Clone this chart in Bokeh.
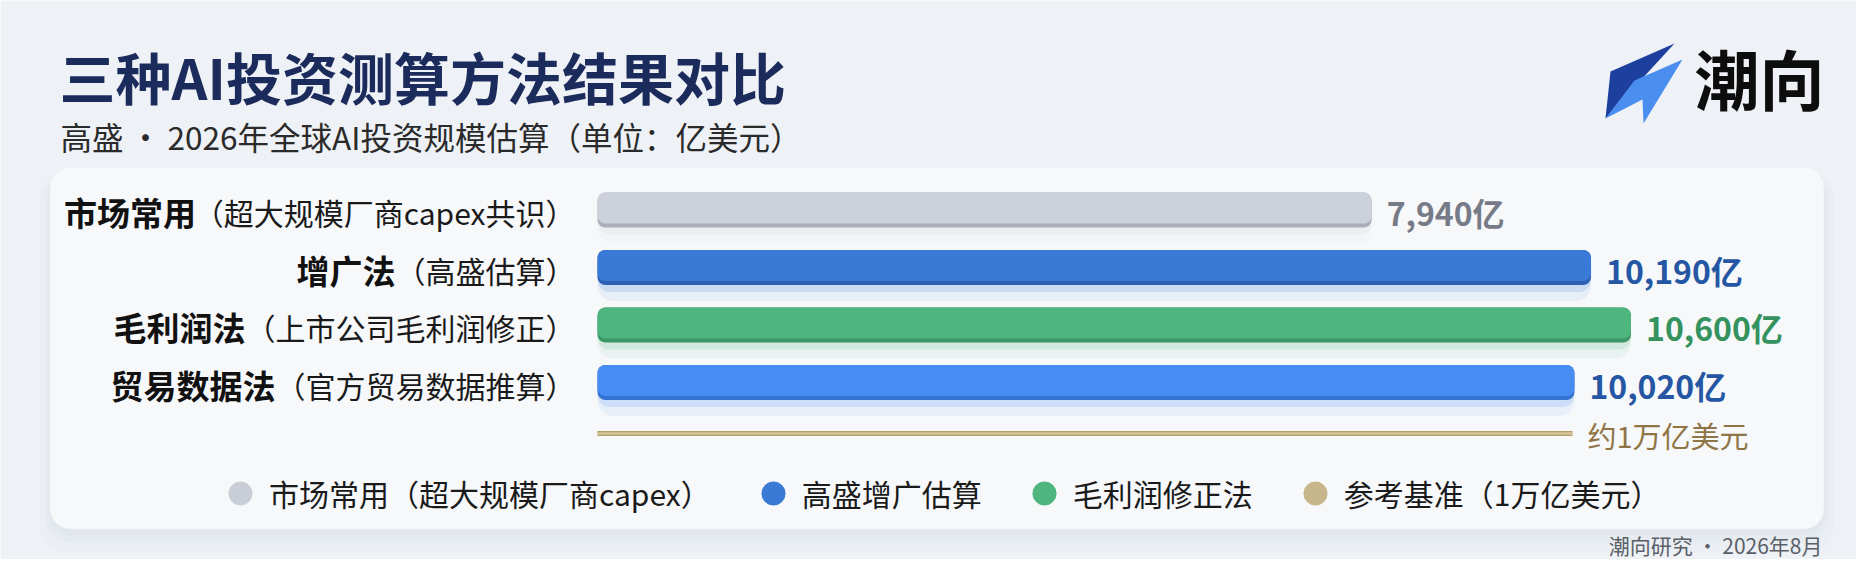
from bokeh.plotting import figure
from bokeh.models import Range1d, Label, BoxAnnotation, PolyAnnotation, Legend, LegendItem
from bokeh.core.properties import value
from bokeh.embed import file_html
from bokeh.resources import INLINE

# ---------------- data ----------------
title_text = "三种AI投资测算方法结果对比"
subtitle_text = "高盛\u2009·\u20092026年全球AI投资规模估算（单位：亿美元）"
brand_text = "潮向"
footer_text = "潮向研究\u2009·\u20092026年8月"

method_names = ["市场常用", "增广法", "毛利润法", "贸易数据法"]
method_notes = ["（超大规模厂商capex共识）", "（高盛估算）", "（上市公司毛利润修正）", "（官方贸易数据推算）"]
values_yi = [7940, 10190, 10600, 10020]          # 亿美元
reference_value = 10000
reference_label = "约1万亿美元"
legend_labels = ["市场常用（超大规模厂商capex）", "高盛增广估算", "毛利润修正法", "参考基准（1万亿美元）"]

# ---------------- styles ----------------
FONT = "Noto Sans CJK SC"
BG = "#eef1f5"
bar_colors = ["#cdd1da", "#3a7ad7", "#4fb57f", "#468cf3"]
bar_dark = ["#a9aeb9", "#2b5fb5", "#3b9564", "#3571d0"]
value_colors = ["#767b87", "#2556a3", "#34925e", "#2556a3"]
legend_colors = ["#c9cdd6", "#3a7ad7", "#4fb57f", "#c8b68c"]
ref_text_color = "#8f7546"

W, H = 1856, 559
BAR_X0 = 597          # canvas px where value 0 sits
PX_PER_UNIT = 0.0975  # px per 亿美元
ROW0 = 209.5          # canvas px (from top) of first row centre
ROW_STEP = 57.5
PX = 1.0 / ROW_STEP   # one pixel in y data units
BAR_H = 35 * PX


def sx(px):
    return px


def sy(py):
    return H - py


def text_w(s, fs):
    w = 0.0
    for ch in s:
        o = ord(ch)
        if o >= 0x2E80:
            w += 1.0
        elif ch.isdigit():
            w += 0.554
        elif ch.islower():
            w += 0.53
        elif ch.isupper():
            w += 0.62
        else:
            w += 0.3
    return w * fs


p = figure(width=W, height=H,
           x_range=Range1d(-BAR_X0 / PX_PER_UNIT, (W - BAR_X0) / PX_PER_UNIT),
           y_range=Range1d((H - ROW0) / ROW_STEP, -ROW0 / ROW_STEP),
           output_backend="svg", toolbar_location=None, min_border=0,
           x_axis_location=None, y_axis_location=None,
           outline_line_color=None, background_fill_color=BG, border_fill_color=BG)
p.grid.visible = False

# ---------------- card ----------------
for off, grow, alpha in [(14, 10, 0.025), (9, 5, 0.04), (5, 2, 0.05)]:
    p.add_layout(BoxAnnotation(left=sx(50) - grow, right=sx(1823) + grow,
                               top=sy(168) - off + grow, bottom=sy(528) - off - grow,
                               left_units="screen", right_units="screen",
                               top_units="screen", bottom_units="screen",
                               fill_color="#8a95a8", fill_alpha=alpha, line_color=None,
                               border_radius=24, level="underlay"))
p.add_layout(BoxAnnotation(left=sx(50), right=sx(1823), top=sy(168), bottom=sy(528),
                           left_units="screen", right_units="screen",
                           top_units="screen", bottom_units="screen",
                           fill_color="#f7f8fa", fill_alpha=1, line_color="#ffffff", line_width=2,
                           border_radius=20, level="underlay"))

# ---------------- bars ----------------
rows = list(range(len(method_names)))
zeros = [0] * len(rows)

p.hbar(y=[r + 11 * PX for r in rows], left=zeros, right=values_yi, height=BAR_H + 10 * PX,
       fill_color=bar_colors, fill_alpha=0.08, line_color=None, border_radius=15)
p.hbar(y=[r + 6 * PX for r in rows], left=zeros, right=values_yi, height=BAR_H + 2 * PX,
       fill_color=bar_colors, fill_alpha=0.16, line_color=None, border_radius=12)
p.hbar(y=rows, left=zeros, right=values_yi, height=BAR_H,
       fill_color=bar_dark, line_color=None, border_radius=8)
p.hbar(y=[r - 2 * PX for r in rows], left=zeros, right=values_yi, height=BAR_H - 4 * PX,
       fill_color=bar_colors, line_color=None, border_radius=8)

# value labels
p.text(x=values_yi, y=rows, text=[f"{v:,}亿" for v in values_yi],
       x_offset=15, y_offset=2, text_align="left", text_baseline="middle",
       text_font=value(FONT), text_font_style="bold", text_font_size="32px",
       text_color=value_colors)

# row labels (bold name + regular note), right aligned before the bars
LABEL_GAP = 22
NOTE_FS = 30
note_w = [text_w(s, NOTE_FS) for s in method_notes]
p.text(x=zeros, y=rows, text=method_notes, x_offset=-LABEL_GAP, y_offset=2,
       text_align="right", text_baseline="middle",
       text_font=value(FONT), text_font_size=f"{NOTE_FS}px", text_color="#1a1a1a")
p.text(x=zeros, y=rows, text=method_names, x_offset=[-LABEL_GAP - w for w in note_w], y_offset=2,
       text_align="right", text_baseline="middle",
       text_font=value(FONT), text_font_style="bold", text_font_size="33px", text_color="#111111")

# reference line
ref_row = rows[-1] + 0.887
p.segment(x0=[0], y0=[ref_row], x1=[reference_value], y1=[ref_row],
          line_width=5, line_color="#b59c6c", line_cap="butt")
p.segment(x0=[0], y0=[ref_row], x1=[reference_value], y1=[ref_row],
          line_width=2.5, line_color="#d6c49b", line_cap="butt")
p.text(x=[reference_value], y=[ref_row], text=[reference_label], x_offset=15, y_offset=1,
       text_align="left", text_baseline="middle",
       text_font=value(FONT), text_font_size="29px", text_color=ref_text_color)

# ---------------- legend ----------------
nan = float("nan")
items = []
for lab, c in zip(legend_labels, legend_colors):
    r = p.scatter(x=[nan], y=[nan], marker="circle", size=10, fill_color=c, line_color=c)
    items.append(LegendItem(label=lab, renderers=[r]))
legend = Legend(items=items, orientation="horizontal", location=(211, 33),
                glyph_width=58, glyph_height=66, label_standoff=0, spacing=33,
                padding=0, margin=0, background_fill_alpha=0, border_line_alpha=0,
                label_text_font=FONT, label_text_font_size="30px",
                label_text_color="#1a1a1a", label_text_baseline="middle")
p.add_layout(legend)

# ---------------- header ----------------
p.add_layout(Label(x=sx(59), y=sy(75), x_units="screen", y_units="screen", text=title_text,
                   text_font=FONT, text_font_style="bold", text_font_size="56px",
                   text_color="#1b2b5c", text_baseline="middle", text_align="left"))
p.add_layout(Label(x=sx(60), y=sy(135), x_units="screen", y_units="screen", text=subtitle_text,
                   text_font=FONT, text_font_size="31.5px",
                   text_color="#2a2a2a", text_baseline="middle", text_align="left"))
p.add_layout(Label(x=sx(1694), y=sy(76), x_units="screen", y_units="screen", text=brand_text,
                   text_font=FONT, text_font_style="bold", text_font_size="65px",
                   text_color="#0d0d0d", text_baseline="middle", text_align="left"))
# logo mark
dark_pts = [(1610, 71), (1674, 43), (1640, 80), (1605, 118)]
light_pts = [(1682, 59), (1643, 123), (1642, 99), (1605, 118), (1634, 80)]
for pts, col in [(dark_pts, "#1d3f9e"), (light_pts, "#4a8ff0")]:
    p.add_layout(PolyAnnotation(xs=[sx(a) for a, b in pts], ys=[sy(b) for a, b in pts],
                                xs_units="screen", ys_units="screen",
                                fill_color=col, fill_alpha=1, line_color=None))

# footer
p.add_layout(Label(x=sx(1822), y=sy(544), x_units="screen", y_units="screen", text=footer_text,
                   text_font=FONT, text_font_size="21px",
                   text_color="#5a5f68", text_baseline="middle", text_align="right"))

open("out.html", "w").write(file_html(p, INLINE))
